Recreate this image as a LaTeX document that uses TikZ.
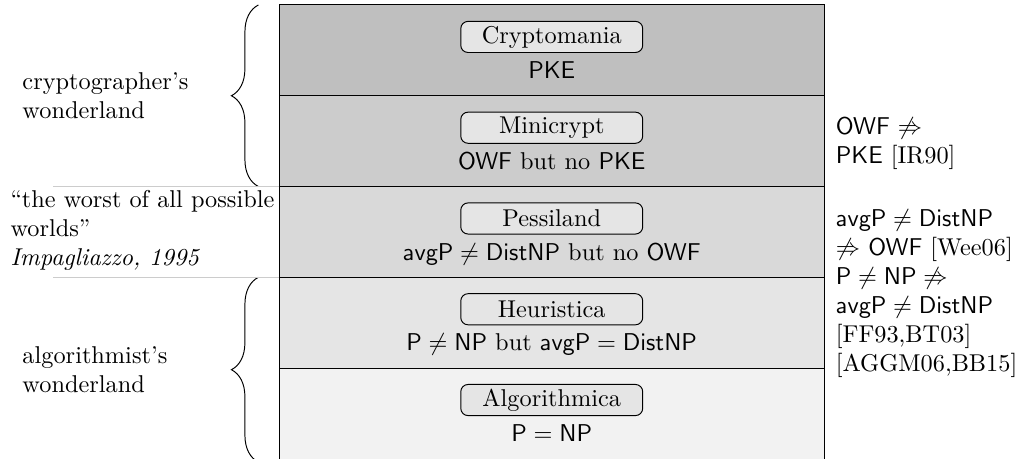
\documentclass[tikz,border=0pt]{standalone}
\usepackage{amsmath, amssymb}
\usepackage{tikz}
\usetikzlibrary{
    positioning,              % Required for "below=of"
    decorations.pathreplacing % Required for the braces
}

\newcommand{\prim}[1]{\textsf{#1}}

\tikzset{
    world/.style={draw, fill=#1, minimum width=7.88cm, minimum height=1.312cm, inner sep=0pt, outer sep=0pt},
    worldname/.style={draw, rounded corners=3pt, fill=black!10, minimum width=2.63cm, minimum height=0.45cm, inner sep=1pt},
    worlddesc/.style={text height=7pt, text depth=2pt},
    sidenote/.style={align=left, inner sep=0pt},
    bracket/.style={decorate, decoration={brace, amplitude=0.39cm}},
    divider/.style={black!20}
}

\begin{document}
\begin{tikzpicture}
    \useasboundingbox (0,0) rectangle (14.7,6.634);

    % The five worlds
    \node[world=black!25] (cryptomania) at (7.975,5.906) {};
    \node[world=black!20, below=0pt of cryptomania] (minicrypt) {};
    \node[world=black!15, below=0pt of minicrypt] (pessiland) {};
    \node[world=black!10, below=0pt of pessiland] (heuristica) {};
    \node[world=black!5, below=0pt of heuristica, minimum height=1.36cm] (algorithmica) {};

    % Names and what holds in each world
    \node[worldname, below=0.23cm of cryptomania.north] (cryptomania-name) {Cryptomania};
    \node[worlddesc, below=0pt of cryptomania-name] (cryptomania-desc) {\prim{PKE}};

    \node[worldname, below=0.23cm of minicrypt.north] (minicrypt-name) {Minicrypt};
    \node[worlddesc, below=0pt of minicrypt-name] (minicrypt-desc) {\prim{OWF} but no \prim{PKE}};

    \node[worldname, below=0.23cm of pessiland.north] (pessiland-name) {Pessiland};
    \node[worlddesc, below=0pt of pessiland-name] (pessiland-desc) {$\mathsf{avgP} \neq \mathsf{DistNP}$ but no \prim{OWF}};

    \node[worldname, below=0.23cm of heuristica.north] (heuristica-name) {Heuristica};
    \node[worlddesc, below=0pt of heuristica-name] (heuristica-desc) {$\mathsf{P} \neq \mathsf{NP}$ but $\mathsf{avgP} = \mathsf{DistNP}$};

    \node[worldname, below=0.23cm of algorithmica.north] (algorithmica-name) {Algorithmica};
    \node[worlddesc, below=0pt of algorithmica-name] (algorithmica-desc) {$\mathsf{P} = \mathsf{NP}$};

    % Separations on the right
    \node[sidenote, anchor=north west] (owf-pke) at ([xshift=0.16cm, yshift=-0.3cm]minicrypt.north east)
        {\prim{OWF} $\not\Rightarrow$\\ \prim{PKE} [IR90]};
    \node[sidenote, anchor=north west] (avgp-owf) at ([xshift=0.16cm, yshift=-0.32cm]pessiland.north east)
        {$\mathsf{avgP} \neq \mathsf{DistNP}$\\ $\not\Rightarrow$ \prim{OWF} [Wee06]\\
         $\mathsf{P} \neq \mathsf{NP} \not\Rightarrow$\\ $\mathsf{avgP} \neq \mathsf{DistNP}$\\
         {[FF93,BT03]}\\ {[AGGM06,BB15]}};

    % Wonderlands on the left
    \node[sidenote, anchor=west] (crypto-land) at (0.318,5.25) {cryptographer's\\ wonderland};
    \node[sidenote, anchor=west] (worst-world) at (0.145,3.30)
        {``the worst of all possible\\ worlds''\\ \textit{Impagliazzo, 1995}};
    \node[sidenote, anchor=west] (algo-land) at (0.318,1.29) {algorithmist's\\ wonderland};

    \draw[bracket] ([xshift=-0.3cm]pessiland.north west) -- ([xshift=-0.3cm]cryptomania.north west);
    \draw[bracket] ([xshift=-0.3cm]algorithmica.south west) -- ([xshift=-0.3cm]heuristica.north west);

    % Frame of the quote
    \draw[divider] (pessiland.north west) -- ++(-3.27,0);
    \draw[divider] (heuristica.north west) -- ++(-3.27,0);
\end{tikzpicture}
\end{document}
